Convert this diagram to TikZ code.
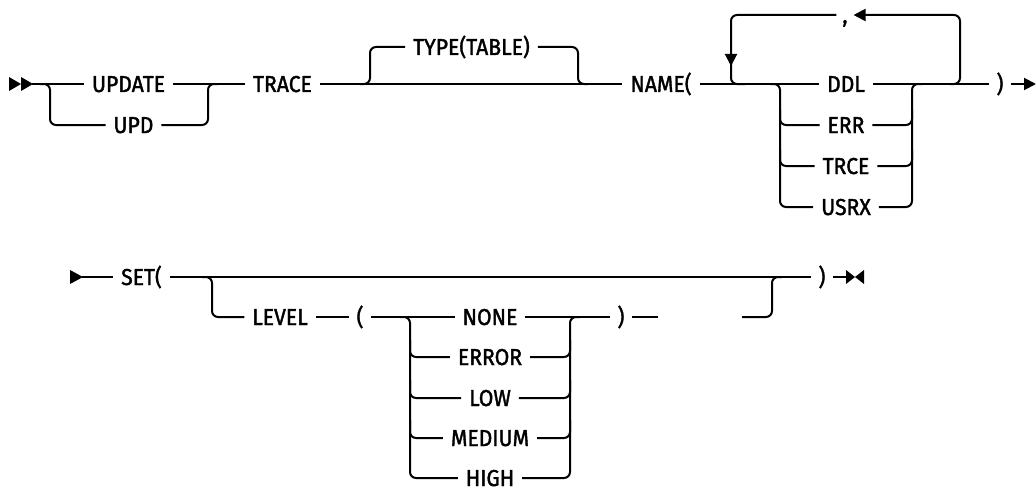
\documentclass[tikz,border=0pt]{standalone}
\usepackage{fontspec}
\newfontfamily\kwfont{Fira Sans}[FakeBold=1.6,FakeStretch=0.92]
\usetikzlibrary{arrows.meta}
\begin{document}
\begin{tikzpicture}[x=1pt,y=-1pt,line width=2pt,
  kw/.style={inner xsep=7pt,inner ysep=0pt,text height=21pt,text depth=5pt,font=\kwfont\fontsize{23}{23}\selectfont},
  rc/.style={rounded corners=6pt},
  tip/.style={-{Triangle[length=12pt,width=12pt]}}]
\useasboundingbox (0,0) rectangle (1036,495);
% ---------- row A ----------
\fill (9,77) -- (21,84) -- (9,91) -- cycle;
\fill (21,77) -- (33,84) -- (21,91) -- cycle;
\coordinate (s1) at (32,84);
\node[kw] (update) at (128.5,84) {UPDATE};
\node[kw] (upd) at (133.5,125) {UPD};
\node[kw] (trace) at (282.5,84) {TRACE};
\draw (s1) -- (update);
\draw (update) -- (trace);
\draw[rc] (40,84) -- (50,84) -- (50,125) -- (upd.west);
\draw[rc] (upd.east) -- (208,125) -- (208,84) -- (218,84);
\node[kw] (type) at (471.5,47) {TYPE(TABLE)};
\node[kw] (name) at (661,84) {NAME(};
\draw (trace) -- (name);
\draw[rc] (360,84) -- (370,84) -- (370,47) -- (type.west);
\draw[rc] (type.east) -- (578,47) -- (578,84) -- (588,84);
% repeat loop and choice
\node[kw] (ddl) at (846,84) {DDL};
\node[kw] (err) at (846,125) {ERR};
\node[kw] (trce) at (846,166) {TRCE};
\node[kw] (usrx) at (846,207) {USRX};
\node[kw] (close1) at (1000,84) {)};
\node[kw,inner xsep=5pt] (comma) at (845,15) {,};
\coordinate (endA) at (1036,84);
\draw (name) -- (ddl);
\draw (ddl) -- (close1);
\draw[tip] (close1) -- (endA);
\draw[rc,tip] (950,84) -- (960,84) -- (960,15) -- (comma.east);
\draw[rc,tip] (comma.west) -- (731,15) -- (731,66);
\draw[rc] (731,55) -- (731,84) -- (745,84);
\draw[rc] (770,84) -- (780,84) -- (780,207) -- (usrx.west);
\draw[rc] (780,110) -- (780,125) -- (err.west);
\draw[rc] (780,150) -- (780,166) -- (trce.west);
\draw[rc] (usrx.east) -- (912,207) -- (912,84) -- (922,84);
\draw[rc] (err.east) -- (912,125) -- (912,110);
\draw[rc] (trce.east) -- (912,166) -- (912,150);
% ---------- row B ----------
\fill (70,270) -- (83,277) -- (70,284) -- cycle;
\coordinate (s2) at (82,277);
\node[kw] (set) at (141.5,277) {SET(};
\node[kw] (close2) at (822,277) {)};
\draw (s2) -- (set);
\draw (set) -- (close2);
\node[kw] (level) at (280,317) {LEVEL};
\node[kw] (lp) at (360,317) {(};
\draw[rc] (202,277) -- (212,277) -- (212,317) -- (level.west);
\draw (level) -- (lp);
\node[kw] (none) at (490,317) {NONE};
\node[kw] (error) at (490,357) {ERROR};
\node[kw] (low) at (490,398) {LOW};
\node[kw] (medium) at (490,438) {MEDIUM};
\node[kw] (high) at (490,478) {HIGH};
\node[kw] (rp) at (621,317) {)};
\draw (lp) -- (none);
\draw (none) -- (rp);
\draw[rc] (400,317) -- (410,317) -- (410,478) -- (high.west);
\draw[rc] (410,340) -- (410,357) -- (error.west);
\draw[rc] (410,380) -- (410,398) -- (low.west);
\draw[rc] (410,420) -- (410,438) -- (medium.west);
\draw[rc] (high.east) -- (570,478) -- (570,317) -- (580,317);
\draw[rc] (error.east) -- (570,357) -- (570,340);
\draw[rc] (low.east) -- (570,398) -- (570,380);
\draw[rc] (medium.east) -- (570,438) -- (570,420);
\coordinate (g1) at (658,317);
\coordinate (g2) at (742,317);
\draw (rp) -- (g1);
\draw[rc] (g2) -- (772,317) -- (772,277) -- (782,277);
\coordinate (e2) at (847,277);
\draw (close2) -- (e2);
\fill (846,270) -- (855,277) -- (846,284) -- cycle;
\fill (864,270) -- (855,277) -- (864,284) -- cycle;
\end{tikzpicture}
\end{document}
